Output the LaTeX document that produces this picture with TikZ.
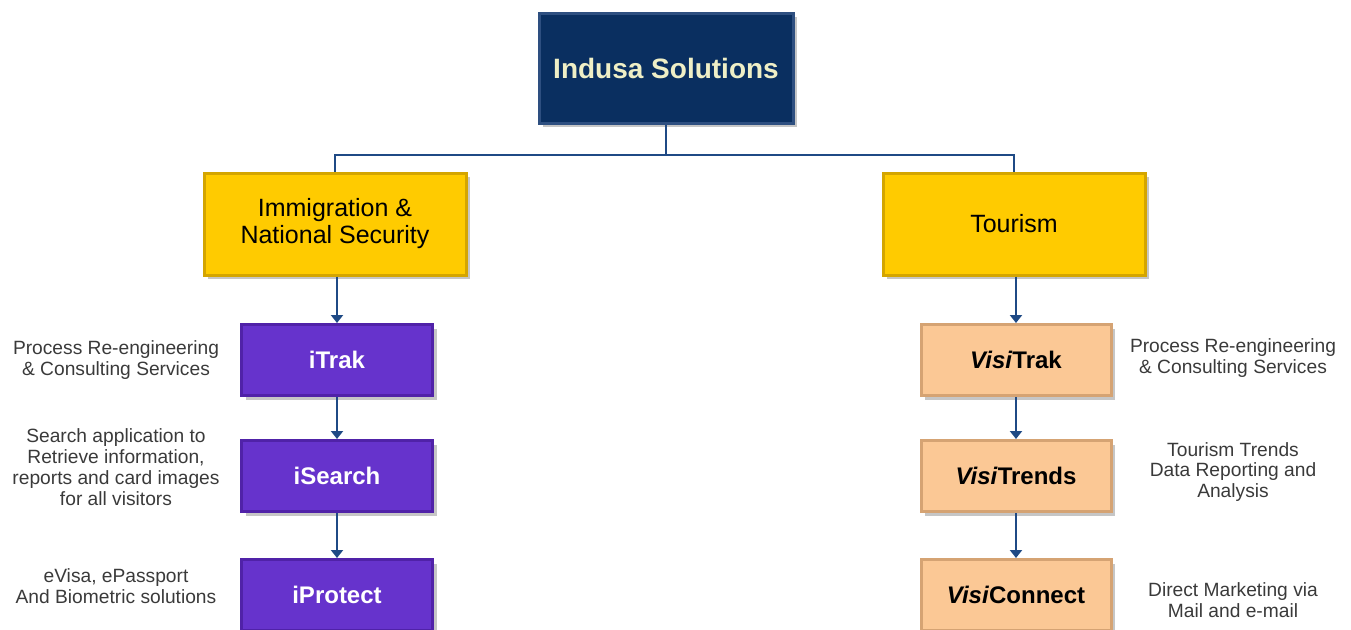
\documentclass[tikz,border=0pt]{standalone}
\usepackage{fontspec}
\setmainfont{Liberation Sans}
\usetikzlibrary{arrows.meta,shadows}
\definecolor{navy}{HTML}{0A2F60}
\definecolor{navyedge}{HTML}{2E4F80}
\definecolor{titletext}{HTML}{EFEFC6}
\definecolor{gold}{HTML}{FFCB00}
\definecolor{goldedge}{HTML}{D4A500}
\definecolor{violet}{HTML}{6633CC}
\definecolor{violetedge}{HTML}{5022A8}
\definecolor{peach}{HTML}{FBC895}
\definecolor{peachedge}{HTML}{D5A373}
\definecolor{linkblue}{HTML}{1F4A85}
\definecolor{desctext}{HTML}{3A3A3A}
\tikzset{
  boxshadow/.style={drop shadow={shadow xshift=2pt,shadow yshift=-2pt,opacity=0.45}},
  topbox/.style={fill=navy,draw=navyedge,line width=1.5pt,boxshadow,
    minimum width=127pt,minimum height=55pt,inner sep=0pt,
    text=titletext,font=\fontsize{14}{16}\selectfont\bfseries},
  areabox/.style={fill=gold,draw=goldedge,line width=1.5pt,boxshadow,
    minimum width=131pt,minimum height=51pt,inner sep=0pt,align=center,
    font=\fontsize{12.5}{13.5}\selectfont},
  ibox/.style={fill=violet,draw=violetedge,line width=1.5pt,boxshadow,
    minimum width=95.5pt,minimum height=35.5pt,inner sep=0pt,
    text=white,font=\fontsize{12}{14}\selectfont\bfseries},
  visibox/.style={fill=peach,draw=peachedge,line width=1.5pt,boxshadow,
    minimum width=95pt,minimum height=35.5pt,inner sep=0pt,
    font=\fontsize{12}{14}\selectfont\bfseries},
  desc/.style={align=center,text=desctext,inner sep=0pt,
    font=\fontsize{9.6}{10.4}\selectfont},
  link/.style={draw=linkblue,line width=1.1pt},
  arrow/.style={link,-{Triangle[width=6pt,length=4pt]}}
}
\begin{document}
\begin{tikzpicture}[x=0.5pt,y=-0.5pt]
\useasboundingbox (0,0) rectangle (1351,629);
% top
\node[topbox] (indusa) at (666,68) {Indusa Solutions};
% the two areas
\node[areabox] (immig) at (335,224) {Immigration \&\\National Security};
\node[areabox] (tourism) at (1014,224) {Tourism};
\coordinate (split) at (indusa.south |- 0,155);
\draw[link] (indusa.south) -- (split);
\draw[link] (immig.north) |- (split) -| (tourism.north);
% immigration products
\node[ibox] (itrak) at (337,360) {iTrak};
\node[ibox] (isearch) at (337,476) {iSearch};
\node[ibox] (iprotect) at (337,595) {iProtect};
\draw[arrow] (immig.south -| itrak.north) -- (itrak.north);
\draw[arrow] (itrak) -- (isearch);
\draw[arrow] (isearch) -- (iprotect);
\node[desc] (itrakdesc) at (116,360) {Process Re-engineering\\\& Consulting Services};
\node[desc] (isearchdesc) at (116,467) {Search application to\\Retrieve information,\\reports and card images\\for all visitors};
\node[desc] (iprotectdesc) at (116,586) {eVisa, ePassport\\And Biometric solutions};
% tourism products
\node[visibox] (visitrak) at (1016,360) {\textit{Visi}Trak};
\node[visibox] (visitrends) at (1016,476) {\textit{Visi}Trends};
\node[visibox] (visiconnect) at (1016,595) {\textit{Visi}Connect};
\draw[arrow] (tourism.south -| visitrak.north) -- (visitrak.north);
\draw[arrow] (visitrak) -- (visitrends);
\draw[arrow] (visitrends) -- (visiconnect);
\node[desc] (visitrakdesc) at (1233,358) {Process Re-engineering\\\& Consulting Services};
\node[desc] (visitrendsdesc) at (1233,472) {Tourism Trends\\Data Reporting and\\Analysis};
\node[desc] (visiconnectdesc) at (1233,600) {Direct Marketing via\\Mail and e-mail};
\end{tikzpicture}
\end{document}
